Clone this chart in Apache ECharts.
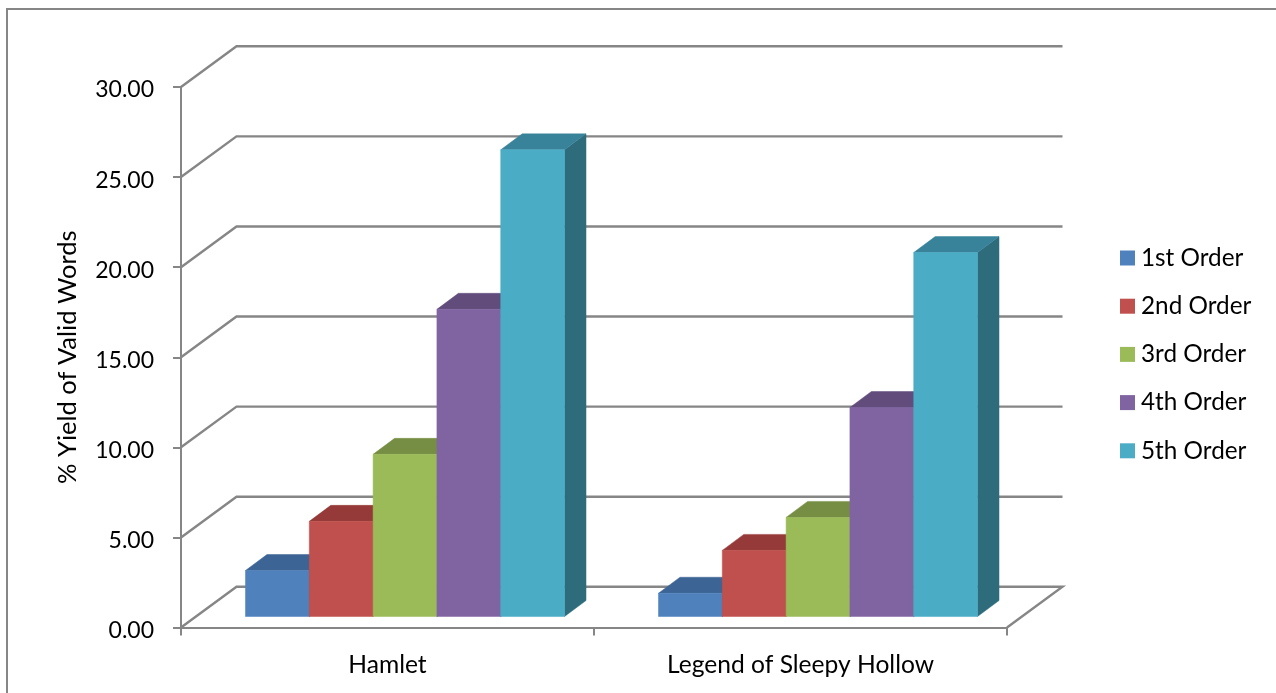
<!DOCTYPE html>
<html>
<head>
<meta charset="utf-8">
<title>% Yield of Valid Words</title>
<style>
  html, body { margin: 0; padding: 0; background: #fff; }
  #chart { width: 1276px; height: 693px; }
</style>
<script src="https://cdn.jsdelivr.net/npm/echarts@6/dist/echarts.min.js"></script>
</head>
<body>
<div id="chart"></div>
<script>
const categories = ['Hamlet', 'Legend of Sleepy Hollow'];
const seriesNames = ['1st Order', '2nd Order', '3rd Order', '4th Order', '5th Order'];
const order1 = [2.55, 1.29];
const order2 = [5.28, 3.67];
const order3 = [9.0, 5.5];
const order4 = [17.05, 11.6];
const order5 = [25.9, 20.2];
const yTicks = [0, 5, 10, 15, 20, 25, 30];

const faceColors = ['#4F81BD', '#C0504D', '#9BBB59', '#8064A2', '#4BACC6'];
const topColors = ['#3C6494', '#953A38', '#768E43', '#614C7C', '#39839A'];
const sideColors = ['#2F4F75', '#762E2C', '#5D7035', '#4D3C62', '#2E6C7C'];
const lineColor = '#868686';
const fontFamily = 'Lato, "Open Sans", sans-serif';

// Oblique projection: the wall sits behind the front plane, bars stand part-way in.
const wallDepth = { x: 55.5, y: 40.7 };
const barInset = { x: 17.5, y: 11 };
const barDepth = { x: 21.5, y: 16 };
const barBandShare = 0.1545;

function renderWall(params, api) {
  const cs = params.coordSys;
  const y = api.coord([0, api.value(0)])[1];
  const x0 = cs.x, x1 = cs.x + cs.width;
  const pts = [[x0, y], [x0 + wallDepth.x, y - wallDepth.y], [x1 + wallDepth.x, y - wallDepth.y]];
  if (api.value(0) === 0) pts.push([x1, y]);
  return {
    type: 'polyline',
    shape: { points: pts },
    style: { stroke: lineColor, lineWidth: 2.4, fill: null }
  };
}

function makeBarRenderer(seriesIndex) {
  return function (params, api) {
    const c = api.value(0);
    const base = api.coord([c, 0]);
    const top = api.coord([c, api.value(1)]);
    const band = api.size([1, 0])[0];
    const w = band * barBandShare;
    const x0 = base[0] + barInset.x + (seriesIndex - 2.5) * w;
    const x1 = x0 + w;
    const yb = base[1] - barInset.y;
    const yt = top[1] - barInset.y;
    const dx = barDepth.x, dy = barDepth.y;
    const poly = (points, fill) => ({
      type: 'polygon',
      shape: { points },
      style: { fill, stroke: fill, lineWidth: 0.5 }
    });
    return {
      type: 'group',
      children: [
        poly([[x1, yt], [x1 + dx, yt - dy], [x1 + dx, yb - dy], [x1, yb]], sideColors[seriesIndex]),
        poly([[x0, yt], [x0 + dx, yt - dy], [x1 + dx, yt - dy], [x1, yt]], topColors[seriesIndex]),
        poly([[x0, yt], [x1, yt], [x1, yb], [x0, yb]], faceColors[seriesIndex])
      ]
    };
  };
}

const orders = [order1, order2, order3, order4, order5];

const chart = echarts.init(document.getElementById('chart'), null, { renderer: 'canvas' });
chart.setOption({
  animation: false,
  backgroundColor: '#fff',
  textStyle: { fontFamily },
  graphic: [
    { type: 'line', silent: true, shape: { x1: 7, y1: 9, x2: 1276, y2: 9 }, style: { stroke: lineColor, lineWidth: 2 } },
    { type: 'line', silent: true, shape: { x1: 7, y1: 8, x2: 7, y2: 693 }, style: { stroke: lineColor, lineWidth: 2 } }
  ],
  legend: {
    orient: 'vertical',
    left: 1120,
    top: 246,
    padding: 0,
    itemWidth: 15,
    itemHeight: 15,
    itemGap: 24.2,
    icon: 'rect',
    data: seriesNames,
    textStyle: { fontFamily, fontSize: 24.3, color: '#000', padding: [0, 0, 0, 1] },
    selectedMode: false
  },
  grid: { left: 181, right: 269, top: 87, bottom: 65.5, outerBoundsMode: 'none' },
  xAxis: {
    type: 'category',
    data: categories,
    axisLine: { lineStyle: { color: lineColor, width: 2 } },
    axisTick: { show: true, length: 8, alignWithLabel: false, lineStyle: { color: lineColor, width: 2 } },
    axisLabel: { color: '#000', fontFamily, fontSize: 24.6, margin: 25 }
  },
  yAxis: {
    type: 'value',
    min: 0,
    max: 30,
    interval: 5,
    name: '% Yield of Valid Words',
    nameLocation: 'middle',
    nameRotate: 90,
    nameGap: 100,
    nameTextStyle: { color: '#000', fontFamily, fontSize: 25.5 },
    axisLine: { show: true, lineStyle: { color: lineColor, width: 2 } },
    axisTick: { show: true, length: 8, lineStyle: { color: lineColor, width: 2 } },
    axisLabel: {
      margin: 27,
      // Digits sit slightly below each tick; the rich token's top padding lowers them.
      formatter: v => '{v|' + v.toFixed(2) + '}',
      rich: { v: { color: '#000', fontFamily, fontSize: 23, padding: [6, 0, 0, 0] } }
    },
    splitLine: { show: false }
  },
  series: [
    {
      type: 'custom',
      name: 'walls',
      silent: true,
      z: 1,
      renderItem: renderWall,
      data: yTicks.map(v => [v]),
      encode: { y: 0 },
      clip: false
    }
  ].concat(seriesNames.map((name, i) => ({
    type: 'custom',
    name,
    z: 2 + i,
    itemStyle: { color: faceColors[i] },
    renderItem: makeBarRenderer(i),
    data: orders[i].map((v, c) => [c, v]),
    encode: { x: 0, y: 1 },
    clip: false
  })))
});
</script>
</body>
</html>
